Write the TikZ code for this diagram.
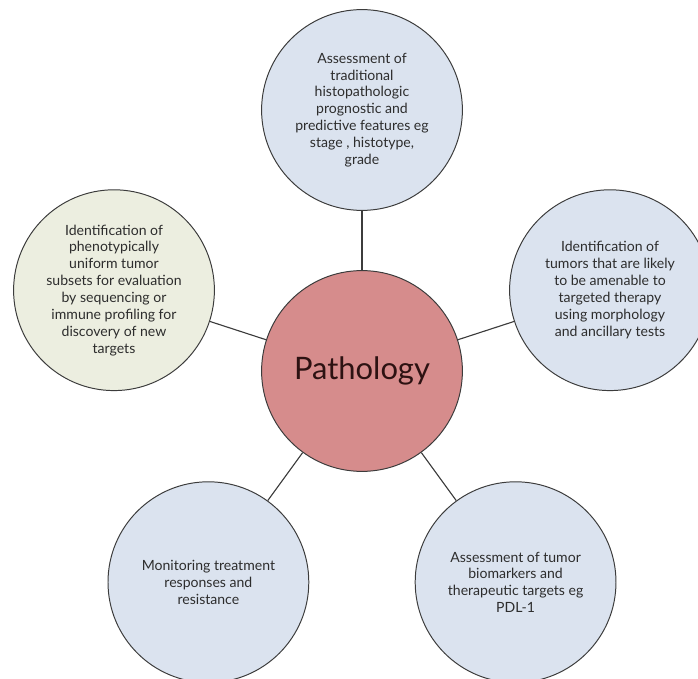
\documentclass[tikz,border=0pt]{standalone}
\usepackage{fontspec}
\setmainfont{Lato}
\usetikzlibrary{positioning}

\definecolor{bubbleblue}{RGB}{219,227,239}
\definecolor{bubblegreen}{RGB}{236,238,224}
\definecolor{corerose}{RGB}{214,140,140}
\definecolor{edgegray}{RGB}{60,60,60}
\definecolor{textgray}{RGB}{45,45,45}
\definecolor{coretext}{RGB}{45,18,18}

\begin{document}
\begin{tikzpicture}[
    on grid,
    bubble/.style={circle,draw=edgegray,line width=0.7pt,fill=bubbleblue,minimum size=5.02cm,inner sep=0pt,align=center,text=textgray,font=\fontsize{10}{12}\selectfont},
    core/.style={bubble,fill=corerose,text=coretext,font=\fontsize{22}{26}\selectfont},
    line/.style={draw=edgegray,line width=0.8pt}]

    \useasboundingbox (-9.05,-7.7) rectangle (8.4,9.275);
    \clip (-9.05,-7.7) rectangle (8.4,9.275);

    % Main pathology circle
    \node[core] (patho) at (0,0) {Pathology};

    % Surrounding task circles
    \node[bubble, above=6.525cm of patho] (histo) {Assessment of\\traditional\\histopathologic\\prognostic and\\predictive features eg\\stage , histotype,\\grade};
    \node[bubble, above right=2.02cm and 6.2cm of patho] (therapy) {Identification of\\tumors that are likely\\to be amenable to\\targeted therapy\\using morphology\\and ancillary tests};
    \node[bubble, below right=5.28cm and 3.84cm of patho] (markers) {Assessment of tumor\\biomarkers and\\therapeutic targets eg\\PDL-1};
    \node[bubble, below left=5.28cm and 3.84cm of patho] (monitor) {Monitoring treatment\\responses and\\resistance};
    \node[bubble, fill=bubblegreen, above left=2.02cm and 6.2cm of patho] (subsets) {Identification of\\phenotypically\\uniform tumor\\subsets for evaluation\\by sequencing or\\immune profiling for\\discovery of new\\targets};

    % Connect circles
    \path[line] (patho) -- (histo);
    \path[line] (patho) -- (therapy);
    \path[line] (patho) -- (markers);
    \path[line] (patho) -- (monitor);
    \path[line] (patho) -- (subsets);
\end{tikzpicture}
\end{document}
